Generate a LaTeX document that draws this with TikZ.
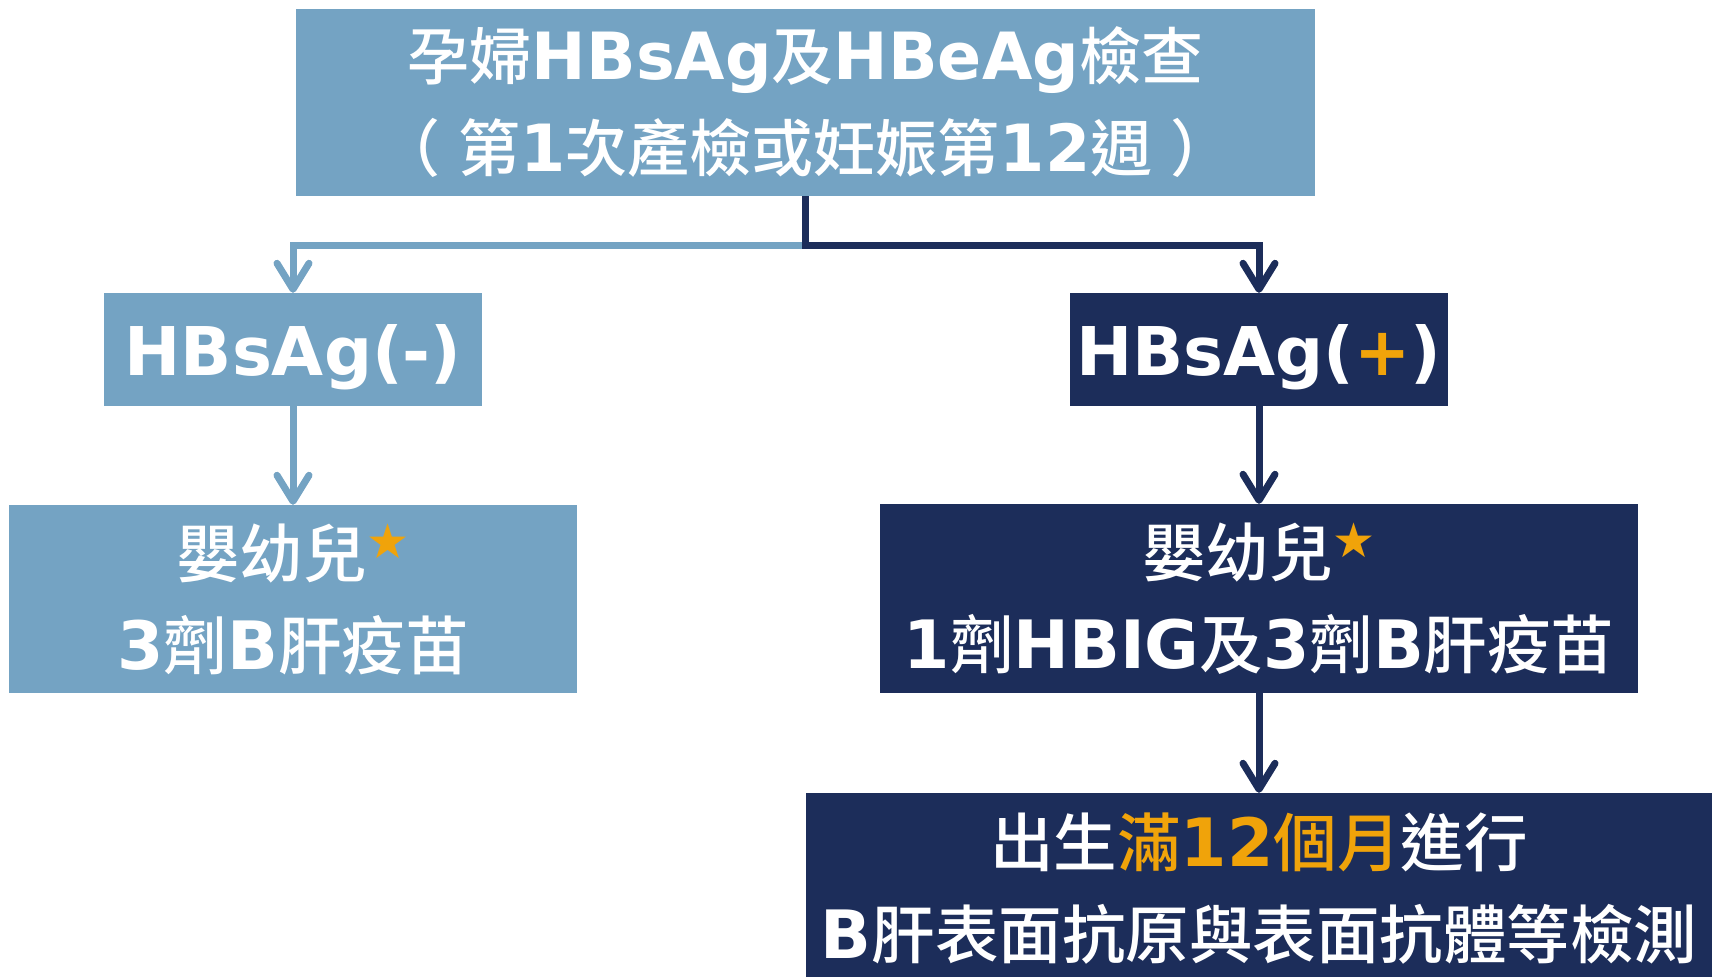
\documentclass[tikz,border=0pt]{standalone}
\usepackage{fontspec}
\setmainfont{Noto Sans CJK TC}[BoldFont={Noto Sans CJK TC Medium}]
\newfontfamily\lat{DejaVu Sans}[Scale=1.05]
\newfontfamily\symf{DejaVu Sans}
\usetikzlibrary{arrows.meta}
\definecolor{lblue}{HTML}{74A3C3}
\definecolor{navy}{HTML}{1C2D5A}
\definecolor{gold}{HTML}{F0A30A}
\newcommand\E[1]{{\lat\bfseries #1}}
\newcommand\Down[2]{\raisebox{-#1}[\height][\depth]{#2}}
\newcommand\Star{\raisebox{19pt}{\fontsize{48}{48}\selectfont\symf\textcolor{gold}{★}}}
\begin{document}
\begin{tikzpicture}[x=1pt,y=-1pt,
  box/.style={rectangle, inner sep=0pt, align=center, text=white,
    font=\fontsize{63.5}{92}\selectfont\bfseries},
  lbox/.style={box, fill=lblue},
  nbox/.style={box, fill=navy},
  hbox/.style={minimum width=378pt, minimum height=113pt,
    font=\fontsize{64}{64}\selectfont\lat\bfseries},
  conn/.style={line width=7pt, -{Straight Barb[length=26pt,width=32pt,round]}}]
\useasboundingbox (0,0) rectangle (1717,977);
\fill[white] (0,0) rectangle (1717,977);

\node[lbox, minimum width=1019pt, minimum height=187pt,
  font=\fontsize{62}{92}\selectfont\bfseries] (top) at (805.5,102.5)
  {孕婦\E{HBsAg}及\E{HBeAg}檢查\\（\hspace{18pt}第\E{1}次產檢或妊娠第\E{12}週\hspace{18pt}）};

\node[lbox, hbox] (neg) at (293,349.5) {\Down{8pt}{HBsAg(-)}};
\node[nbox, hbox] (pos) at (1259,349.5) {\Down{8pt}{HBsAg(\textcolor{gold}{+})}};

\node[lbox, minimum width=568pt, minimum height=188pt] (negv) at (293,599)
  {嬰幼兒\Star\\\E{3}劑\E{B}肝疫苗};
\node[nbox, minimum width=758pt, minimum height=189pt] (posv) at (1259,598.5)
  {嬰幼兒\Star\\\E{1}劑\E{HBIG}及\E{3}劑\E{B}肝疫苗};

\node[nbox, minimum width=906pt, minimum height=184pt] (test) at (1259,885)
  {\Down{4pt}{出生\textcolor{gold}{滿\E{12}個月}進行}\\\Down{4pt}{\E{B}肝表面抗原與表面抗體等檢測}};

\path (top.south) ++(0,49) coordinate (split);
\draw[conn, lblue] (split) -| (neg.north);
\draw[conn, navy] (top.south) -- (split) -| (pos.north);
\draw[conn, lblue] (neg) -- (negv);
\draw[conn, navy] (pos) -- (posv);
\draw[conn, navy] (posv) -- (test);
\end{tikzpicture}
\end{document}
